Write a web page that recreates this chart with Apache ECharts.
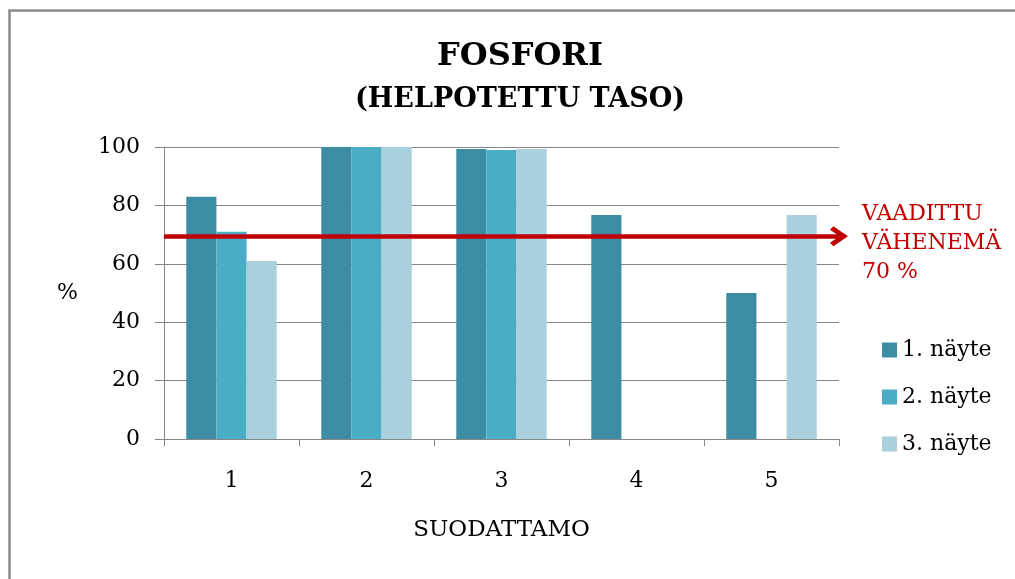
<!DOCTYPE html>
<html>
<head>
<meta charset="utf-8">
<script src="https://cdn.jsdelivr.net/npm/echarts@6/dist/echarts.min.js"></script>
<style>
	html, body { margin: 0; padding: 0; background: #fff; }
	#chart { width: 1015px; height: 579px; }
</style>
</head>
<body>
<div id="chart"></div>
<script>
	// suodattamot ja näytteiden tulokset (%)
	var categories = ["1", "2", "3", "4", "5"];
	var seriesNames = ["1. näyte", "2. näyte", "3. näyte"];
	var sample1 = [83, 100, 99.3, 76.7, 50];
	var sample2 = [71, 100, 99, null, null];
	var sample3 = [61, 100, 99.3, null, 76.7];
	var requiredLevel = 69.4;
	var yTicks = [0, 20, 40, 60, 80, 100];

	var font = "DejaVu Serif";
	var grey = "#868686";
	var colors = ["#3c8ca3", "#4bacc6", "#aacfdd"];

	var chevron = "path://M10,0 L20,13 L16.5,16 L10,7.5 L3.5,16 L0,13 Z";

	var chart = echarts.init(document.getElementById("chart"));

	var option = {
		animation: false,
		color: colors,
		title: {
			text: "FOSFORI",
			subtext: "(HELPOTETTU TASO)",
			left: 515,
			top: 36,
			textAlign: "center",
			itemGap: 13,
			textStyle: { fontFamily: font, fontSize: 32, fontWeight: "bold", color: "#000" },
			subtextStyle: { fontFamily: font, fontSize: 27, fontWeight: "bold", color: "#000" },
		},
		legend: {
			data: seriesNames,
			orient: "vertical",
			left: 877,
			top: 333,
			icon: "rect",
			itemWidth: 15,
			itemHeight: 15,
			itemGap: 23,
			textStyle: { fontFamily: font, fontSize: 22, color: "#000", lineHeight: 24 },
		},
		grid: {
			left: 164,
			right: 176,
			top: 147,
			bottom: 140,
		},
		xAxis: {
			type: "category",
			data: categories,
			name: "SUODATTAMO",
			nameLocation: "middle",
			nameGap: 80,
			nameTextStyle: { fontFamily: font, fontSize: 23, color: "#000" },
			axisLine: { lineStyle: { color: grey } },
			axisTick: { show: true, length: 7, lineStyle: { color: grey } },
			axisLabel: { fontFamily: font, fontSize: 22, color: "#000", margin: 31 },
		},
		yAxis: {
			type: "value",
			min: yTicks[0],
			max: yTicks[yTicks.length - 1],
			interval: 20,
			name: "%",
			nameLocation: "middle",
			nameRotate: 0,
			nameGap: 86,
			nameTextStyle: { fontFamily: font, fontSize: 22, color: "#000" },
			axisLine: { show: true, lineStyle: { color: grey } },
			axisTick: { show: true, length: 9, lineStyle: { color: grey } },
			axisLabel: { fontFamily: font, fontSize: 22, color: "#000", margin: 24 },
			splitLine: { lineStyle: { color: grey } },
		},
		series: [
			{
				name: seriesNames[0],
				type: "bar",
				data: sample1,
				barGap: "0%",
				barCategoryGap: "33%",
				markLine: {
					silent: true,
					symbol: ["none", chevron],
					symbolSize: [20, 18],
					label: { show: false },
					lineStyle: { color: "#c00000", width: 4.5, type: "solid" },
					emphasis: { disabled: true },
					data: [{ yAxis: requiredLevel }],
				},
			},
			{
				name: seriesNames[1],
				type: "bar",
				data: sample2,
				barGap: "0%",
				barCategoryGap: "33%",
			},
			{
				name: seriesNames[2],
				type: "bar",
				data: sample3,
				barGap: "0%",
				barCategoryGap: "33%",
			},
		],
		graphic: [
			{
				// kehys: vain vasen ja ylä reuna näkyvät
				type: "polyline",
				silent: true,
				shape: { points: [[9.5, 600], [9.5, 10.5], [1030, 10.5]] },
				style: { fill: null, stroke: "#8a8a8a", lineWidth: 2.5 },
			},
			{
				type: "text",
				left: 862,
				top: 200,
				style: {
					text: "VAADITTU\nVÄHENEMÄ\n70 %",
					fontFamily: font,
					fontSize: 22,
					lineHeight: 29,
					fill: "#c00000",
				},
			},
		],
	};

	chart.setOption(option);
</script>
</body>
</html>
